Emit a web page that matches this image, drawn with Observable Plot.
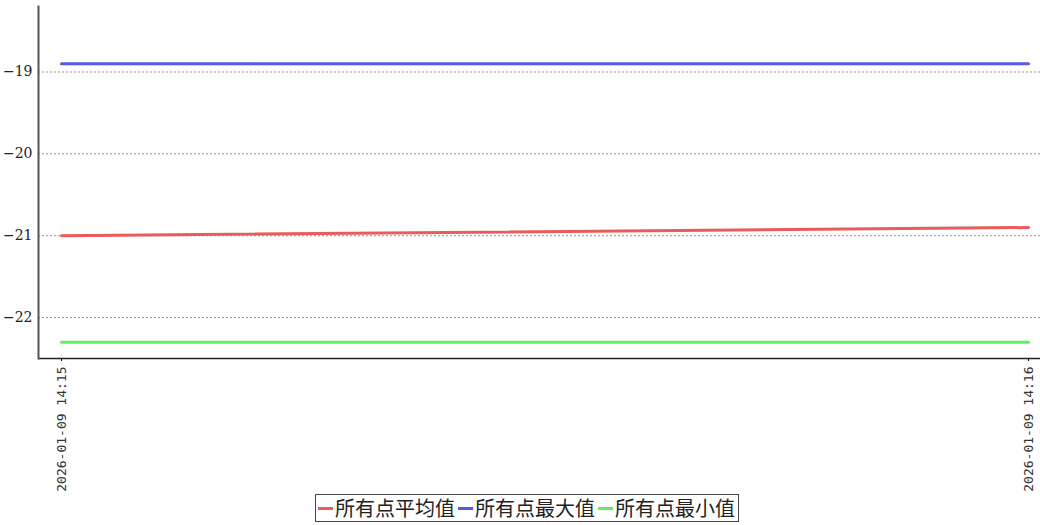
<!DOCTYPE html>
<html>
<head>
<meta charset="utf-8">
<script src="https://cdn.jsdelivr.net/npm/d3@7"></script>
<script src="https://cdn.jsdelivr.net/npm/@observablehq/plot@0.6"></script>
<style>
  body { margin: 0; background: #fff; }
  #chart { width: 1040px; }
  #chart svg { display: block; }
  .legend {
    margin-left: 315px; margin-top: 4px;
    display: inline-flex; align-items: center; gap: 3px;
    border: 1px solid #444; padding: 0 3px 0 2px;
    font-family: "Noto Sans CJK SC", sans-serif; font-size: 20px; color: #222;
    height: 28px; box-sizing: border-box; line-height: 26px;
  }
  .item { display: inline-flex; align-items: center; }
  .sw { display: inline-block; width: 15px; height: 3px; margin-right: 2px; }
</style>
</head>
<body>
<div id="chart"></div>
<script>
const times = ["2026-01-09T14:15:00Z", "2026-01-09T14:16:00Z"];
const avgValues = [-21.0, -20.9];
const maxValues = [-18.9, -18.9];
const minValues = [-22.3, -22.3];
const yTicks = [-22, -21, -20, -19];
const seriesNames = ["所有点平均值", "所有点最大值", "所有点最小值"];
const seriesColors = ["#e85c5c", "#5858e0", "#5cf05c"];

const dates = times.map(t => new Date(t));
const mk = vals => dates.map((d, i) => ({t: d, v: vals[i]}));
const seriesData = [mk(avgValues), mk(maxValues), mk(minValues)];

const fmt = d3.utcFormat("%Y-%m-%d %H:%M");

const plot = Plot.plot({
  width: 1040,
  height: 490,
  marginTop: 6,
  marginBottom: 132,
  marginLeft: 38,
  marginRight: 0,
  x: {type: "utc", domain: [dates[0], dates[1]], range: [61, 1028]},
  y: {domain: [-22.5, -18.2]},
  style: {background: "#fff", overflow: "visible"},
  marks: [
    Plot.gridY(yTicks, {stroke: "#777", strokeOpacity: 1, strokeDasharray: "2,2", strokeWidth: 0.8}),
    ...seriesData.map((d, i) => Plot.line(d, {x: "t", y: "v", stroke: seriesColors[i], strokeWidth: 3})),
    Plot.ruleY([-22.5], {stroke: "#222", strokeWidth: 1.5}),
    Plot.frame({anchor: "left", stroke: "#555", strokeWidth: 2}),
    Plot.axisY(yTicks, {tickSize: 0, tickPadding: 6, tickFormat: d => String(d).replace("-", "−"), fontSize: 14, fontFamily: "DejaVu Serif", fill: "#222", label: null}),
    Plot.axisX(dates, {tickSize: 3, tickPadding: 5, tickRotate: -90, tickFormat: fmt, fontSize: 13, fontFamily: "DejaVu Sans Mono", fill: "#333", label: null})
  ]
});
const chart = document.getElementById("chart");
chart.appendChild(plot);

const lg = document.createElement("div");
lg.className = "legend";
seriesNames.forEach((n, i) => {
  const it = document.createElement("span");
  it.className = "item";
  const sw = document.createElement("span");
  sw.className = "sw";
  sw.style.background = seriesColors[i];
  const tx = document.createElement("span");
  tx.textContent = n;
  it.appendChild(sw);
  it.appendChild(tx);
  lg.appendChild(it);
});
chart.appendChild(lg);
</script>
</body>
</html>
